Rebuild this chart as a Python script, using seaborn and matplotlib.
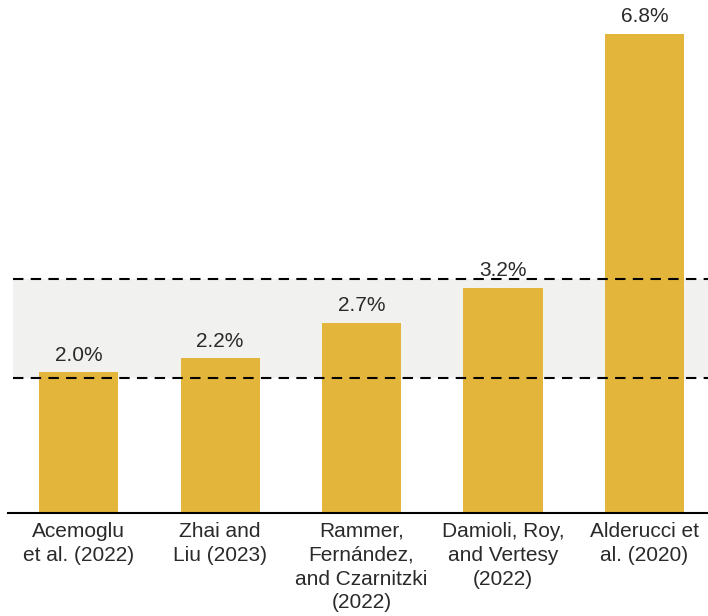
import matplotlib
matplotlib.use("Agg")
import matplotlib.pyplot as plt
import seaborn as sns
import pandas as pd

studies = ["Acemoglu\net al. (2022)", "Zhai and\nLiu (2023)",
           "Rammer,\nFernández,\nand Czarnitzki\n(2022)",
           "Damioli, Roy,\nand Vertesy\n(2022)", "Alderucci et\nal. (2020)"]
values = [2.0, 2.2, 2.7, 3.2, 6.8]
band_low, band_high = 1.92, 3.32

sns.set_theme(style="white")
plt.rcParams['font.family'] = ['Liberation Sans', 'DejaVu Sans']

df = pd.DataFrame({"study": studies, "value": values})

fig = plt.figure(figsize=(7.08, 6.16), dpi=100)
ax = fig.add_axes([8/708, 102.7/616, 700/708, 513.3/616])

ax.axhspan(band_low, band_high, xmin=5/700, xmax=1, color="#f1f1f0", zorder=0, lw=0)
sns.barplot(data=df, x="study", y="value", color="#e3b53b", width=0.56,
            saturation=1, ax=ax, zorder=2, linewidth=0)
for v, i in zip(values, range(len(values))):
    ax.annotate(f"{v:.1f}%", (i, v), xytext=(0, 5.5), textcoords="offset points",
                ha="center", va="bottom", fontsize=15, color="#2a2a2a", zorder=3)
for y in (band_low, band_high):
    ax.axhline(y, xmin=5/700, xmax=1, color="black", lw=1.5,
               linestyle=(0, (5, 3.5)), zorder=4)

ax.set_xlim(-0.5, 4.45)
ax.set_ylim(0, 7.28)
ax.set_xlabel("")
ax.set_ylabel("")
ax.set_yticks([])
for s in ("left", "right", "top"):
    ax.spines[s].set_visible(False)
ax.spines["bottom"].set_color("black")
ax.spines["bottom"].set_linewidth(1.5)
ax.tick_params(axis="x", length=0, pad=6, labelsize=15, labelcolor="#2a2a2a")
for t in ax.get_xticklabels():
    t.set_linespacing(1.33)

fig.savefig("out.png", dpi=100)
